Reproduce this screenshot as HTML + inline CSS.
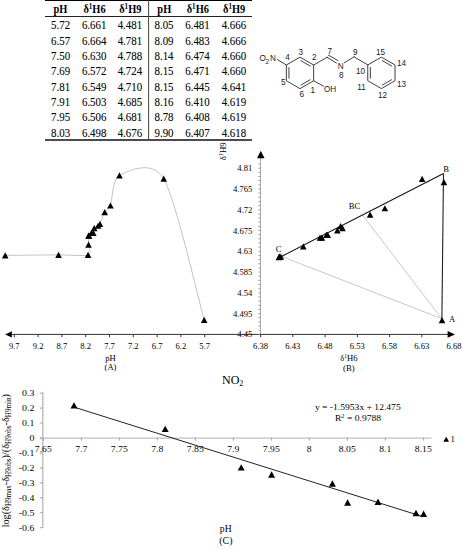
<!DOCTYPE html>
<html><head><meta charset="utf-8"><style>
html,body{margin:0;padding:0;background:#fff;}
body{width:463px;height:550px;overflow:hidden;}
svg{display:block;}
</style></head><body>
<svg width="463" height="550" viewBox="0 0 463 550">
<rect width="463" height="550" fill="#fff"/>
<line x1="45" y1="0.5" x2="252" y2="0.5" stroke="#000" stroke-width="1.2"/>
<line x1="45" y1="16.5" x2="252" y2="16.5" stroke="#222" stroke-width="1"/>
<line x1="45" y1="139.9" x2="252" y2="139.9" stroke="#111" stroke-width="1.5"/>
<line x1="148.6" y1="0" x2="148.6" y2="139.5" stroke="#444" stroke-width="1"/>
<text transform="translate(60.5 12.8) scale(1.000 1.100)" font-size="10.4" text-anchor="middle" font-weight="bold" font-family='"Liberation Serif", serif' fill="#000" >pH</text>
<text transform="translate(94.5 12.8) scale(1.000 1.100)" font-size="10.4" text-anchor="middle" font-weight="bold" font-family='"Liberation Serif", serif' fill="#000" >&#948;<tspan font-size="7.07" dy="-3.6">1</tspan><tspan dy="3.6">H6</tspan></text>
<text transform="translate(130.3 12.8) scale(1.000 1.100)" font-size="10.4" text-anchor="middle" font-weight="bold" font-family='"Liberation Serif", serif' fill="#000" >&#948;<tspan font-size="7.07" dy="-3.6">1</tspan><tspan dy="3.6">H9</tspan></text>
<text transform="translate(164.3 12.8) scale(1.000 1.100)" font-size="10.4" text-anchor="middle" font-weight="bold" font-family='"Liberation Serif", serif' fill="#000" >pH</text>
<text transform="translate(197.8 12.8) scale(1.000 1.100)" font-size="10.4" text-anchor="middle" font-weight="bold" font-family='"Liberation Serif", serif' fill="#000" >&#948;<tspan font-size="7.07" dy="-3.6">1</tspan><tspan dy="3.6">H6</tspan></text>
<text transform="translate(234.2 12.8) scale(1.000 1.100)" font-size="10.4" text-anchor="middle" font-weight="bold" font-family='"Liberation Serif", serif' fill="#000" >&#948;<tspan font-size="7.07" dy="-3.6">1</tspan><tspan dy="3.6">H9</tspan></text>
<text transform="translate(60.6 29.3) scale(1.000 1.160)" font-size="10.9" text-anchor="middle" font-weight="normal" font-family='"Liberation Serif", serif' fill="#000" stroke="#000" stroke-width="0.08">5.72</text>
<text transform="translate(94.2 29.3) scale(1.000 1.160)" font-size="10.9" text-anchor="middle" font-weight="normal" font-family='"Liberation Serif", serif' fill="#000" stroke="#000" stroke-width="0.08">6.661</text>
<text transform="translate(129.9 29.3) scale(1.000 1.160)" font-size="10.9" text-anchor="middle" font-weight="normal" font-family='"Liberation Serif", serif' fill="#000" stroke="#000" stroke-width="0.08">4.481</text>
<text transform="translate(164 29.3) scale(1.000 1.160)" font-size="10.9" text-anchor="middle" font-weight="normal" font-family='"Liberation Serif", serif' fill="#000" stroke="#000" stroke-width="0.08">8.05</text>
<text transform="translate(197.5 29.3) scale(1.000 1.160)" font-size="10.9" text-anchor="middle" font-weight="normal" font-family='"Liberation Serif", serif' fill="#000" stroke="#000" stroke-width="0.08">6.481</text>
<text transform="translate(233.9 29.3) scale(1.000 1.160)" font-size="10.9" text-anchor="middle" font-weight="normal" font-family='"Liberation Serif", serif' fill="#000" stroke="#000" stroke-width="0.08">4.666</text>
<text transform="translate(60.6 44.66) scale(1.000 1.160)" font-size="10.9" text-anchor="middle" font-weight="normal" font-family='"Liberation Serif", serif' fill="#000" stroke="#000" stroke-width="0.08">6.57</text>
<text transform="translate(94.2 44.66) scale(1.000 1.160)" font-size="10.9" text-anchor="middle" font-weight="normal" font-family='"Liberation Serif", serif' fill="#000" stroke="#000" stroke-width="0.08">6.664</text>
<text transform="translate(129.9 44.66) scale(1.000 1.160)" font-size="10.9" text-anchor="middle" font-weight="normal" font-family='"Liberation Serif", serif' fill="#000" stroke="#000" stroke-width="0.08">4.781</text>
<text transform="translate(164 44.66) scale(1.000 1.160)" font-size="10.9" text-anchor="middle" font-weight="normal" font-family='"Liberation Serif", serif' fill="#000" stroke="#000" stroke-width="0.08">8.09</text>
<text transform="translate(197.5 44.66) scale(1.000 1.160)" font-size="10.9" text-anchor="middle" font-weight="normal" font-family='"Liberation Serif", serif' fill="#000" stroke="#000" stroke-width="0.08">6.483</text>
<text transform="translate(233.9 44.66) scale(1.000 1.160)" font-size="10.9" text-anchor="middle" font-weight="normal" font-family='"Liberation Serif", serif' fill="#000" stroke="#000" stroke-width="0.08">4.666</text>
<text transform="translate(60.6 60.02) scale(1.000 1.160)" font-size="10.9" text-anchor="middle" font-weight="normal" font-family='"Liberation Serif", serif' fill="#000" stroke="#000" stroke-width="0.08">7.50</text>
<text transform="translate(94.2 60.02) scale(1.000 1.160)" font-size="10.9" text-anchor="middle" font-weight="normal" font-family='"Liberation Serif", serif' fill="#000" stroke="#000" stroke-width="0.08">6.630</text>
<text transform="translate(129.9 60.02) scale(1.000 1.160)" font-size="10.9" text-anchor="middle" font-weight="normal" font-family='"Liberation Serif", serif' fill="#000" stroke="#000" stroke-width="0.08">4.788</text>
<text transform="translate(164 60.02) scale(1.000 1.160)" font-size="10.9" text-anchor="middle" font-weight="normal" font-family='"Liberation Serif", serif' fill="#000" stroke="#000" stroke-width="0.08">8.14</text>
<text transform="translate(197.5 60.02) scale(1.000 1.160)" font-size="10.9" text-anchor="middle" font-weight="normal" font-family='"Liberation Serif", serif' fill="#000" stroke="#000" stroke-width="0.08">6.474</text>
<text transform="translate(233.9 60.02) scale(1.000 1.160)" font-size="10.9" text-anchor="middle" font-weight="normal" font-family='"Liberation Serif", serif' fill="#000" stroke="#000" stroke-width="0.08">4.660</text>
<text transform="translate(60.6 75.38) scale(1.000 1.160)" font-size="10.9" text-anchor="middle" font-weight="normal" font-family='"Liberation Serif", serif' fill="#000" stroke="#000" stroke-width="0.08">7.69</text>
<text transform="translate(94.2 75.38) scale(1.000 1.160)" font-size="10.9" text-anchor="middle" font-weight="normal" font-family='"Liberation Serif", serif' fill="#000" stroke="#000" stroke-width="0.08">6.572</text>
<text transform="translate(129.9 75.38) scale(1.000 1.160)" font-size="10.9" text-anchor="middle" font-weight="normal" font-family='"Liberation Serif", serif' fill="#000" stroke="#000" stroke-width="0.08">4.724</text>
<text transform="translate(164 75.38) scale(1.000 1.160)" font-size="10.9" text-anchor="middle" font-weight="normal" font-family='"Liberation Serif", serif' fill="#000" stroke="#000" stroke-width="0.08">8.15</text>
<text transform="translate(197.5 75.38) scale(1.000 1.160)" font-size="10.9" text-anchor="middle" font-weight="normal" font-family='"Liberation Serif", serif' fill="#000" stroke="#000" stroke-width="0.08">6.471</text>
<text transform="translate(233.9 75.38) scale(1.000 1.160)" font-size="10.9" text-anchor="middle" font-weight="normal" font-family='"Liberation Serif", serif' fill="#000" stroke="#000" stroke-width="0.08">4.660</text>
<text transform="translate(60.6 90.74) scale(1.000 1.160)" font-size="10.9" text-anchor="middle" font-weight="normal" font-family='"Liberation Serif", serif' fill="#000" stroke="#000" stroke-width="0.08">7.81</text>
<text transform="translate(94.2 90.74) scale(1.000 1.160)" font-size="10.9" text-anchor="middle" font-weight="normal" font-family='"Liberation Serif", serif' fill="#000" stroke="#000" stroke-width="0.08">6.549</text>
<text transform="translate(129.9 90.74) scale(1.000 1.160)" font-size="10.9" text-anchor="middle" font-weight="normal" font-family='"Liberation Serif", serif' fill="#000" stroke="#000" stroke-width="0.08">4.710</text>
<text transform="translate(164 90.74) scale(1.000 1.160)" font-size="10.9" text-anchor="middle" font-weight="normal" font-family='"Liberation Serif", serif' fill="#000" stroke="#000" stroke-width="0.08">8.15</text>
<text transform="translate(197.5 90.74) scale(1.000 1.160)" font-size="10.9" text-anchor="middle" font-weight="normal" font-family='"Liberation Serif", serif' fill="#000" stroke="#000" stroke-width="0.08">6.445</text>
<text transform="translate(233.9 90.74) scale(1.000 1.160)" font-size="10.9" text-anchor="middle" font-weight="normal" font-family='"Liberation Serif", serif' fill="#000" stroke="#000" stroke-width="0.08">4.641</text>
<text transform="translate(60.6 106.1) scale(1.000 1.160)" font-size="10.9" text-anchor="middle" font-weight="normal" font-family='"Liberation Serif", serif' fill="#000" stroke="#000" stroke-width="0.08">7.91</text>
<text transform="translate(94.2 106.1) scale(1.000 1.160)" font-size="10.9" text-anchor="middle" font-weight="normal" font-family='"Liberation Serif", serif' fill="#000" stroke="#000" stroke-width="0.08">6.503</text>
<text transform="translate(129.9 106.1) scale(1.000 1.160)" font-size="10.9" text-anchor="middle" font-weight="normal" font-family='"Liberation Serif", serif' fill="#000" stroke="#000" stroke-width="0.08">4.685</text>
<text transform="translate(164 106.1) scale(1.000 1.160)" font-size="10.9" text-anchor="middle" font-weight="normal" font-family='"Liberation Serif", serif' fill="#000" stroke="#000" stroke-width="0.08">8.16</text>
<text transform="translate(197.5 106.1) scale(1.000 1.160)" font-size="10.9" text-anchor="middle" font-weight="normal" font-family='"Liberation Serif", serif' fill="#000" stroke="#000" stroke-width="0.08">6.410</text>
<text transform="translate(233.9 106.1) scale(1.000 1.160)" font-size="10.9" text-anchor="middle" font-weight="normal" font-family='"Liberation Serif", serif' fill="#000" stroke="#000" stroke-width="0.08">4.619</text>
<text transform="translate(60.6 121.46) scale(1.000 1.160)" font-size="10.9" text-anchor="middle" font-weight="normal" font-family='"Liberation Serif", serif' fill="#000" stroke="#000" stroke-width="0.08">7.95</text>
<text transform="translate(94.2 121.46) scale(1.000 1.160)" font-size="10.9" text-anchor="middle" font-weight="normal" font-family='"Liberation Serif", serif' fill="#000" stroke="#000" stroke-width="0.08">6.506</text>
<text transform="translate(129.9 121.46) scale(1.000 1.160)" font-size="10.9" text-anchor="middle" font-weight="normal" font-family='"Liberation Serif", serif' fill="#000" stroke="#000" stroke-width="0.08">4.681</text>
<text transform="translate(164 121.46) scale(1.000 1.160)" font-size="10.9" text-anchor="middle" font-weight="normal" font-family='"Liberation Serif", serif' fill="#000" stroke="#000" stroke-width="0.08">8.78</text>
<text transform="translate(197.5 121.46) scale(1.000 1.160)" font-size="10.9" text-anchor="middle" font-weight="normal" font-family='"Liberation Serif", serif' fill="#000" stroke="#000" stroke-width="0.08">6.408</text>
<text transform="translate(233.9 121.46) scale(1.000 1.160)" font-size="10.9" text-anchor="middle" font-weight="normal" font-family='"Liberation Serif", serif' fill="#000" stroke="#000" stroke-width="0.08">4.619</text>
<text transform="translate(60.6 136.82) scale(1.000 1.160)" font-size="10.9" text-anchor="middle" font-weight="normal" font-family='"Liberation Serif", serif' fill="#000" stroke="#000" stroke-width="0.08">8.03</text>
<text transform="translate(94.2 136.82) scale(1.000 1.160)" font-size="10.9" text-anchor="middle" font-weight="normal" font-family='"Liberation Serif", serif' fill="#000" stroke="#000" stroke-width="0.08">6.498</text>
<text transform="translate(129.9 136.82) scale(1.000 1.160)" font-size="10.9" text-anchor="middle" font-weight="normal" font-family='"Liberation Serif", serif' fill="#000" stroke="#000" stroke-width="0.08">4.676</text>
<text transform="translate(164 136.82) scale(1.000 1.160)" font-size="10.9" text-anchor="middle" font-weight="normal" font-family='"Liberation Serif", serif' fill="#000" stroke="#000" stroke-width="0.08">9.90</text>
<text transform="translate(197.5 136.82) scale(1.000 1.160)" font-size="10.9" text-anchor="middle" font-weight="normal" font-family='"Liberation Serif", serif' fill="#000" stroke="#000" stroke-width="0.08">6.407</text>
<text transform="translate(233.9 136.82) scale(1.000 1.160)" font-size="10.9" text-anchor="middle" font-weight="normal" font-family='"Liberation Serif", serif' fill="#000" stroke="#000" stroke-width="0.08">4.618</text>
<polygon points="300,57.15 313.64,65.03 313.64,80.78 300,88.65 286.36,80.78 286.36,65.03" stroke="#2a2a2a" stroke-width="0.9" fill="none" stroke-linejoin="round"/>
<line x1="300.88" y1="60.66" x2="310.16" y2="66.02" stroke="#2a2a2a" stroke-width="0.9" fill="none" stroke-linecap="round"/>
<line x1="310.16" y1="79.78" x2="300.88" y2="85.14" stroke="#2a2a2a" stroke-width="0.9" fill="none" stroke-linecap="round"/>
<line x1="288.96" y1="78.26" x2="288.96" y2="67.55" stroke="#2a2a2a" stroke-width="0.9" fill="none" stroke-linecap="round"/>
<polygon points="381.4,57.1 395.04,64.97 395.04,80.72 381.4,88.6 367.76,80.72 367.76,64.97" stroke="#2a2a2a" stroke-width="0.9" fill="none" stroke-linejoin="round"/>
<line x1="382.28" y1="60.61" x2="391.56" y2="65.97" stroke="#2a2a2a" stroke-width="0.9" fill="none" stroke-linecap="round"/>
<line x1="391.56" y1="79.73" x2="382.28" y2="85.09" stroke="#2a2a2a" stroke-width="0.9" fill="none" stroke-linecap="round"/>
<line x1="370.36" y1="78.2" x2="370.36" y2="67.49" stroke="#2a2a2a" stroke-width="0.9" fill="none" stroke-linecap="round"/>
<path d="M286.36 65.03L277.2 59.5" stroke="#2a2a2a" stroke-width="0.9" fill="none" stroke-linecap="round"/>
<path d="M313.64 65.03L327.1 57.3" stroke="#2a2a2a" stroke-width="0.9" fill="none" stroke-linecap="round"/>
<path d="M327.1 57.3L336.4 63" stroke="#2a2a2a" stroke-width="0.9" fill="none" stroke-linecap="round"/>
<path d="M328.4 55.1L338 60.6" stroke="#2a2a2a" stroke-width="0.9" fill="none" stroke-linecap="round"/>
<path d="M344.4 62.7L354.1 56.8" stroke="#2a2a2a" stroke-width="0.9" fill="none" stroke-linecap="round"/>
<path d="M354.1 56.8L367.76 64.97" stroke="#2a2a2a" stroke-width="0.9" fill="none" stroke-linecap="round"/>
<path d="M313.64 80.78L323.5 86.2" stroke="#2a2a2a" stroke-width="0.9" fill="none" stroke-linecap="round"/>
<text x="259.4" y="61.1" font-size="8.2" text-anchor="start" font-weight="normal" font-family='"Liberation Sans", sans-serif' fill="#1a1a1a" >O</text>
<text x="265.6" y="63.6" font-size="6.4" text-anchor="start" font-weight="normal" font-family='"Liberation Sans", sans-serif' fill="#1a1a1a" >2</text>
<text x="269.9" y="61.1" font-size="8.2" text-anchor="start" font-weight="normal" font-family='"Liberation Sans", sans-serif' fill="#1a1a1a" >N</text>
<text x="287.6" y="59.8" font-size="8.2" text-anchor="middle" font-weight="normal" font-family='"Liberation Sans", sans-serif' fill="#1a1a1a" >4</text>
<text x="300.7" y="55" font-size="8.2" text-anchor="middle" font-weight="normal" font-family='"Liberation Sans", sans-serif' fill="#1a1a1a" >3</text>
<text x="314.2" y="60" font-size="8.2" text-anchor="middle" font-weight="normal" font-family='"Liberation Sans", sans-serif' fill="#1a1a1a" >2</text>
<text x="283.4" y="84.7" font-size="8.2" text-anchor="middle" font-weight="normal" font-family='"Liberation Sans", sans-serif' fill="#1a1a1a" >5</text>
<text x="301.8" y="97" font-size="8.2" text-anchor="middle" font-weight="normal" font-family='"Liberation Sans", sans-serif' fill="#1a1a1a" >6</text>
<text x="312.8" y="93" font-size="8.2" text-anchor="middle" font-weight="normal" font-family='"Liberation Sans", sans-serif' fill="#1a1a1a" >1</text>
<text x="324" y="92.1" font-size="8.2" text-anchor="start" font-weight="normal" font-family='"Liberation Sans", sans-serif' fill="#1a1a1a" >OH</text>
<text x="329.8" y="53.6" font-size="8.2" text-anchor="middle" font-weight="normal" font-family='"Liberation Sans", sans-serif' fill="#1a1a1a" >7</text>
<text x="340.6" y="68.8" font-size="8.2" text-anchor="middle" font-weight="normal" font-family='"Liberation Sans", sans-serif' fill="#1a1a1a" >N</text>
<text x="341.2" y="77.6" font-size="8.2" text-anchor="middle" font-weight="normal" font-family='"Liberation Sans", sans-serif' fill="#1a1a1a" >8</text>
<text x="355.4" y="54.8" font-size="8.2" text-anchor="middle" font-weight="normal" font-family='"Liberation Sans", sans-serif' fill="#1a1a1a" >9</text>
<text x="380.6" y="54.6" font-size="8.2" text-anchor="middle" font-weight="normal" font-family='"Liberation Sans", sans-serif' fill="#1a1a1a" >15</text>
<text x="397" y="66" font-size="8.2" text-anchor="start" font-weight="normal" font-family='"Liberation Sans", sans-serif' fill="#1a1a1a" >14</text>
<text x="360.5" y="74" font-size="8.2" text-anchor="middle" font-weight="normal" font-family='"Liberation Sans", sans-serif' fill="#1a1a1a" >10</text>
<text x="361.5" y="89.9" font-size="8.2" text-anchor="middle" font-weight="normal" font-family='"Liberation Sans", sans-serif' fill="#1a1a1a" >11</text>
<text x="382.5" y="97.7" font-size="8.2" text-anchor="middle" font-weight="normal" font-family='"Liberation Sans", sans-serif' fill="#1a1a1a" >12</text>
<text x="397" y="86.7" font-size="8.2" text-anchor="start" font-weight="normal" font-family='"Liberation Sans", sans-serif' fill="#1a1a1a" >13</text>
<path d="M204.2 319.82 C198.53 300.06 175.6 198.92 163.74 178.7 C151.88 158.48 126.93 171.65 119.47 175.4 C112.01 179.16 112.49 200.37 110.43 205.51 C108.36 210.65 106.18 209.53 104.71 212.1 C103.25 214.66 100.89 221.95 99.95 223.86 C99.02 225.77 98.85 225.14 98.05 225.74 C97.25 226.33 94.91 227.1 94.24 228.09 C93.58 229.08 93.69 232.14 93.29 232.79 C92.89 233.45 91.99 232.4 91.39 232.79 C90.79 233.19 89.41 235.22 89.01 235.62 C88.61 236.01 88.6 234.36 88.53 235.62 C88.46 236.87 88.6 241.85 88.53 244.55 C88.46 247.25 92.25 253.45 88.05 254.9 C83.86 256.35 70.14 254.84 58.54 254.9 C46.95 254.97 12.69 255.31 5.23 255.37" stroke="#c4c4c4" stroke-width="1" fill="none"/>
<path d="M204.2 316.72L207.5 322.92L200.9 322.92Z" fill="#000"/>
<path d="M163.74 175.6L167.04 181.8L160.44 181.8Z" fill="#000"/>
<path d="M119.47 172.3L122.77 178.5L116.17 178.5Z" fill="#000"/>
<path d="M110.43 202.41L113.73 208.61L107.13 208.61Z" fill="#000"/>
<path d="M104.71 209L108.01 215.2L101.41 215.2Z" fill="#000"/>
<path d="M99.95 220.76L103.25 226.96L96.65 226.96Z" fill="#000"/>
<path d="M98.05 222.64L101.35 228.84L94.75 228.84Z" fill="#000"/>
<path d="M94.24 224.99L97.54 231.19L90.94 231.19Z" fill="#000"/>
<path d="M93.29 229.69L96.59 235.89L89.99 235.89Z" fill="#000"/>
<path d="M91.39 229.69L94.69 235.89L88.09 235.89Z" fill="#000"/>
<path d="M89.01 232.52L92.31 238.72L85.71 238.72Z" fill="#000"/>
<path d="M88.53 232.52L91.83 238.72L85.23 238.72Z" fill="#000"/>
<path d="M88.53 241.45L91.83 247.65L85.23 247.65Z" fill="#000"/>
<path d="M88.05 251.8L91.35 258L84.75 258Z" fill="#000"/>
<path d="M58.54 251.8L61.84 258L55.24 258Z" fill="#000"/>
<path d="M5.23 252.27L8.53 258.47L1.93 258.47Z" fill="#000"/>
<line x1="10" y1="334.4" x2="260" y2="334.4" stroke="#333" stroke-width="1"/>
<path d="M5.2 334.4 L11.8 331.2 L11.8 337.6 Z" fill="#000"/>
<line x1="14.3" y1="334.4" x2="14.3" y2="337.2" stroke="#333" stroke-width="1"/>
<text x="14.3" y="348.6" font-size="8.6" text-anchor="middle" font-weight="normal" font-family='"Liberation Serif", serif' fill="#000" >9.7</text>
<line x1="38.1" y1="334.4" x2="38.1" y2="337.2" stroke="#333" stroke-width="1"/>
<text x="38.1" y="348.6" font-size="8.6" text-anchor="middle" font-weight="normal" font-family='"Liberation Serif", serif' fill="#000" >9.2</text>
<line x1="61.9" y1="334.4" x2="61.9" y2="337.2" stroke="#333" stroke-width="1"/>
<text x="61.9" y="348.6" font-size="8.6" text-anchor="middle" font-weight="normal" font-family='"Liberation Serif", serif' fill="#000" >8.7</text>
<line x1="85.7" y1="334.4" x2="85.7" y2="337.2" stroke="#333" stroke-width="1"/>
<text x="85.7" y="348.6" font-size="8.6" text-anchor="middle" font-weight="normal" font-family='"Liberation Serif", serif' fill="#000" >8.2</text>
<line x1="109.5" y1="334.4" x2="109.5" y2="337.2" stroke="#333" stroke-width="1"/>
<text x="109.5" y="348.6" font-size="8.6" text-anchor="middle" font-weight="normal" font-family='"Liberation Serif", serif' fill="#000" >7.7</text>
<line x1="133.3" y1="334.4" x2="133.3" y2="337.2" stroke="#333" stroke-width="1"/>
<text x="133.3" y="348.6" font-size="8.6" text-anchor="middle" font-weight="normal" font-family='"Liberation Serif", serif' fill="#000" >7.2</text>
<line x1="157.1" y1="334.4" x2="157.1" y2="337.2" stroke="#333" stroke-width="1"/>
<text x="157.1" y="348.6" font-size="8.6" text-anchor="middle" font-weight="normal" font-family='"Liberation Serif", serif' fill="#000" >6.7</text>
<line x1="180.9" y1="334.4" x2="180.9" y2="337.2" stroke="#333" stroke-width="1"/>
<text x="180.9" y="348.6" font-size="8.6" text-anchor="middle" font-weight="normal" font-family='"Liberation Serif", serif' fill="#000" >6.2</text>
<line x1="204.7" y1="334.4" x2="204.7" y2="337.2" stroke="#333" stroke-width="1"/>
<text x="204.7" y="348.6" font-size="8.6" text-anchor="middle" font-weight="normal" font-family='"Liberation Serif", serif' fill="#000" >5.7</text>
<text x="110.5" y="361.2" font-size="8.6" text-anchor="middle" font-weight="normal" font-family='"Liberation Serif", serif' fill="#000" >pH</text>
<text x="110.5" y="370.2" font-size="8.6" text-anchor="middle" font-weight="normal" font-family='"Liberation Serif", serif' fill="#000" >(A)</text>
<line x1="260.5" y1="158" x2="260.5" y2="334.4" stroke="#a8a8a8" stroke-width="1"/>
<line x1="258.3" y1="334.4" x2="260.5" y2="334.4" stroke="#8a8a8a" stroke-width="0.8"/>
<line x1="258.3" y1="330.24" x2="260.5" y2="330.24" stroke="#8a8a8a" stroke-width="0.8"/>
<line x1="258.3" y1="326.09" x2="260.5" y2="326.09" stroke="#8a8a8a" stroke-width="0.8"/>
<line x1="258.3" y1="321.93" x2="260.5" y2="321.93" stroke="#8a8a8a" stroke-width="0.8"/>
<line x1="258.3" y1="317.78" x2="260.5" y2="317.78" stroke="#8a8a8a" stroke-width="0.8"/>
<line x1="258.3" y1="313.62" x2="260.5" y2="313.62" stroke="#8a8a8a" stroke-width="0.8"/>
<line x1="258.3" y1="309.47" x2="260.5" y2="309.47" stroke="#8a8a8a" stroke-width="0.8"/>
<line x1="258.3" y1="305.31" x2="260.5" y2="305.31" stroke="#8a8a8a" stroke-width="0.8"/>
<line x1="258.3" y1="301.16" x2="260.5" y2="301.16" stroke="#8a8a8a" stroke-width="0.8"/>
<line x1="258.3" y1="297" x2="260.5" y2="297" stroke="#8a8a8a" stroke-width="0.8"/>
<line x1="258.3" y1="292.85" x2="260.5" y2="292.85" stroke="#8a8a8a" stroke-width="0.8"/>
<line x1="258.3" y1="288.69" x2="260.5" y2="288.69" stroke="#8a8a8a" stroke-width="0.8"/>
<line x1="258.3" y1="284.54" x2="260.5" y2="284.54" stroke="#8a8a8a" stroke-width="0.8"/>
<line x1="258.3" y1="280.38" x2="260.5" y2="280.38" stroke="#8a8a8a" stroke-width="0.8"/>
<line x1="258.3" y1="276.23" x2="260.5" y2="276.23" stroke="#8a8a8a" stroke-width="0.8"/>
<line x1="258.3" y1="272.07" x2="260.5" y2="272.07" stroke="#8a8a8a" stroke-width="0.8"/>
<line x1="258.3" y1="267.92" x2="260.5" y2="267.92" stroke="#8a8a8a" stroke-width="0.8"/>
<line x1="258.3" y1="263.76" x2="260.5" y2="263.76" stroke="#8a8a8a" stroke-width="0.8"/>
<line x1="258.3" y1="259.6" x2="260.5" y2="259.6" stroke="#8a8a8a" stroke-width="0.8"/>
<line x1="258.3" y1="255.45" x2="260.5" y2="255.45" stroke="#8a8a8a" stroke-width="0.8"/>
<line x1="258.3" y1="251.29" x2="260.5" y2="251.29" stroke="#8a8a8a" stroke-width="0.8"/>
<line x1="258.3" y1="247.14" x2="260.5" y2="247.14" stroke="#8a8a8a" stroke-width="0.8"/>
<line x1="258.3" y1="242.98" x2="260.5" y2="242.98" stroke="#8a8a8a" stroke-width="0.8"/>
<line x1="258.3" y1="238.83" x2="260.5" y2="238.83" stroke="#8a8a8a" stroke-width="0.8"/>
<line x1="258.3" y1="234.67" x2="260.5" y2="234.67" stroke="#8a8a8a" stroke-width="0.8"/>
<line x1="258.3" y1="230.52" x2="260.5" y2="230.52" stroke="#8a8a8a" stroke-width="0.8"/>
<line x1="258.3" y1="226.36" x2="260.5" y2="226.36" stroke="#8a8a8a" stroke-width="0.8"/>
<line x1="258.3" y1="222.21" x2="260.5" y2="222.21" stroke="#8a8a8a" stroke-width="0.8"/>
<line x1="258.3" y1="218.05" x2="260.5" y2="218.05" stroke="#8a8a8a" stroke-width="0.8"/>
<line x1="258.3" y1="213.9" x2="260.5" y2="213.9" stroke="#8a8a8a" stroke-width="0.8"/>
<line x1="258.3" y1="209.74" x2="260.5" y2="209.74" stroke="#8a8a8a" stroke-width="0.8"/>
<line x1="258.3" y1="205.59" x2="260.5" y2="205.59" stroke="#8a8a8a" stroke-width="0.8"/>
<line x1="258.3" y1="201.43" x2="260.5" y2="201.43" stroke="#8a8a8a" stroke-width="0.8"/>
<line x1="258.3" y1="197.28" x2="260.5" y2="197.28" stroke="#8a8a8a" stroke-width="0.8"/>
<line x1="258.3" y1="193.12" x2="260.5" y2="193.12" stroke="#8a8a8a" stroke-width="0.8"/>
<line x1="258.3" y1="188.96" x2="260.5" y2="188.96" stroke="#8a8a8a" stroke-width="0.8"/>
<line x1="258.3" y1="184.81" x2="260.5" y2="184.81" stroke="#8a8a8a" stroke-width="0.8"/>
<line x1="258.3" y1="180.65" x2="260.5" y2="180.65" stroke="#8a8a8a" stroke-width="0.8"/>
<line x1="258.3" y1="176.5" x2="260.5" y2="176.5" stroke="#8a8a8a" stroke-width="0.8"/>
<line x1="258.3" y1="172.34" x2="260.5" y2="172.34" stroke="#8a8a8a" stroke-width="0.8"/>
<line x1="258.3" y1="168.19" x2="260.5" y2="168.19" stroke="#8a8a8a" stroke-width="0.8"/>
<line x1="258.3" y1="164.03" x2="260.5" y2="164.03" stroke="#8a8a8a" stroke-width="0.8"/>
<path d="M260.8 150.8 L264.6 158.3 L257 158.3 Z" fill="#000"/>
<text x="252.4" y="337.4" font-size="8.6" text-anchor="end" font-weight="normal" font-family='"Liberation Serif", serif' fill="#000" >4.45</text>
<text x="252.4" y="316.62" font-size="8.6" text-anchor="end" font-weight="normal" font-family='"Liberation Serif", serif' fill="#000" >4.495</text>
<text x="252.4" y="295.85" font-size="8.6" text-anchor="end" font-weight="normal" font-family='"Liberation Serif", serif' fill="#000" >4.54</text>
<text x="252.4" y="275.07" font-size="8.6" text-anchor="end" font-weight="normal" font-family='"Liberation Serif", serif' fill="#000" >4.585</text>
<text x="252.4" y="254.29" font-size="8.6" text-anchor="end" font-weight="normal" font-family='"Liberation Serif", serif' fill="#000" >4.63</text>
<text x="252.4" y="233.52" font-size="8.6" text-anchor="end" font-weight="normal" font-family='"Liberation Serif", serif' fill="#000" >4.675</text>
<text x="252.4" y="212.74" font-size="8.6" text-anchor="end" font-weight="normal" font-family='"Liberation Serif", serif' fill="#000" >4.72</text>
<text x="252.4" y="191.96" font-size="8.6" text-anchor="end" font-weight="normal" font-family='"Liberation Serif", serif' fill="#000" >4.765</text>
<text x="252.4" y="171.19" font-size="8.6" text-anchor="end" font-weight="normal" font-family='"Liberation Serif", serif' fill="#000" >4.81</text>
<line x1="260" y1="334.4" x2="449" y2="334.4" stroke="#333" stroke-width="1"/>
<path d="M455 334.4 L447.6 331 L447.6 337.8 Z" fill="#000"/>
<line x1="260.6" y1="334.4" x2="260.6" y2="337.2" stroke="#333" stroke-width="1"/>
<text x="260.6" y="348.6" font-size="8.6" text-anchor="middle" font-weight="normal" font-family='"Liberation Serif", serif' fill="#000" >6.38</text>
<line x1="292.85" y1="334.4" x2="292.85" y2="337.2" stroke="#333" stroke-width="1"/>
<text x="292.85" y="348.6" font-size="8.6" text-anchor="middle" font-weight="normal" font-family='"Liberation Serif", serif' fill="#000" >6.43</text>
<line x1="325.1" y1="334.4" x2="325.1" y2="337.2" stroke="#333" stroke-width="1"/>
<text x="325.1" y="348.6" font-size="8.6" text-anchor="middle" font-weight="normal" font-family='"Liberation Serif", serif' fill="#000" >6.48</text>
<line x1="357.35" y1="334.4" x2="357.35" y2="337.2" stroke="#333" stroke-width="1"/>
<text x="357.35" y="348.6" font-size="8.6" text-anchor="middle" font-weight="normal" font-family='"Liberation Serif", serif' fill="#000" >6.53</text>
<line x1="389.6" y1="334.4" x2="389.6" y2="337.2" stroke="#333" stroke-width="1"/>
<text x="389.6" y="348.6" font-size="8.6" text-anchor="middle" font-weight="normal" font-family='"Liberation Serif", serif' fill="#000" >6.58</text>
<line x1="421.85" y1="334.4" x2="421.85" y2="337.2" stroke="#333" stroke-width="1"/>
<text x="421.85" y="348.6" font-size="8.6" text-anchor="middle" font-weight="normal" font-family='"Liberation Serif", serif' fill="#000" >6.63</text>
<text x="454.1" y="348.6" font-size="8.6" text-anchor="middle" font-weight="normal" font-family='"Liberation Serif", serif' fill="#000" >6.68</text>
<text x="348.8" y="360.9" font-size="8.6" text-anchor="middle" font-weight="normal" font-family='"Liberation Serif", serif' fill="#000" >&#948;<tspan font-size="5.5" dy="-3">1</tspan><tspan dy="3">H6</tspan></text>
<text x="348.8" y="370.6" font-size="8.6" text-anchor="middle" font-weight="normal" font-family='"Liberation Serif", serif' fill="#000" >(B)</text>
<text x="0" y="0" font-size="8.9" text-anchor="start" font-weight="normal" font-family='"Liberation Serif", serif' fill="#000" transform="translate(226.2 160.2) rotate(-90)">&#948;<tspan font-size="5.8" dy="-3.2">1</tspan><tspan dy="3.2">H9</tspan></text>
<line x1="281.5" y1="256.4" x2="441.6" y2="318.6" stroke="#c8c8c8" stroke-width="1"/>
<line x1="362.5" y1="215" x2="441.6" y2="318.6" stroke="#c8c8c8" stroke-width="1"/>
<line x1="281.5" y1="256.4" x2="443.5" y2="173.5" stroke="#111" stroke-width="1.1"/>
<line x1="443.5" y1="173.5" x2="441.9" y2="318.6" stroke="#222" stroke-width="1.1"/>
<path d="M442.03 316.99L445.33 323.19L438.73 323.19Z" fill="#000"/>
<path d="M443.95 178.93L447.25 185.13L440.65 185.13Z" fill="#000"/>
<path d="M422.12 175.71L425.42 181.91L418.82 181.91Z" fill="#000"/>
<path d="M384.87 205.17L388.17 211.37L381.57 211.37Z" fill="#000"/>
<path d="M370.1 211.61L373.4 217.81L366.8 217.81Z" fill="#000"/>
<path d="M340.56 223.11L343.86 229.31L337.26 229.31Z" fill="#000"/>
<path d="M342.49 224.95L345.79 231.15L339.19 231.15Z" fill="#000"/>
<path d="M337.35 227.25L340.65 233.45L334.05 233.45Z" fill="#000"/>
<path d="M326.43 231.86L329.73 238.06L323.13 238.06Z" fill="#000"/>
<path d="M327.72 231.86L331.02 238.06L324.42 238.06Z" fill="#000"/>
<path d="M321.94 234.62L325.24 240.82L318.64 240.82Z" fill="#000"/>
<path d="M320.01 234.62L323.31 240.82L316.71 240.82Z" fill="#000"/>
<path d="M303.31 243.36L306.61 249.56L300.01 249.56Z" fill="#000"/>
<path d="M280.84 253.49L284.14 259.69L277.54 259.69Z" fill="#000"/>
<path d="M279.55 253.49L282.85 259.69L276.25 259.69Z" fill="#000"/>
<path d="M278.91 253.95L282.21 260.15L275.61 260.15Z" fill="#000"/>
<text x="446.2" y="171.5" font-size="8.6" text-anchor="middle" font-weight="normal" font-family='"Liberation Serif", serif' fill="#000" >B</text>
<text x="278.6" y="251.8" font-size="8.6" text-anchor="middle" font-weight="normal" font-family='"Liberation Serif", serif' fill="#000" >C</text>
<text x="452.1" y="322" font-size="8.6" text-anchor="middle" font-weight="normal" font-family='"Liberation Serif", serif' fill="#000" >A</text>
<text x="354.6" y="209" font-size="8.6" text-anchor="middle" font-weight="normal" font-family='"Liberation Serif", serif' fill="#000" >BC</text>
<text x="222" y="383.8" font-size="12" text-anchor="start" font-weight="normal" font-family='"Liberation Serif", serif' fill="#000" >NO<tspan font-size="8" dy="2.5">2</tspan></text>
<line x1="42.8" y1="392.6" x2="42.8" y2="528" stroke="#b0b0b0" stroke-width="1.2"/>
<line x1="40" y1="438.1" x2="431.5" y2="438.1" stroke="#c0c0c0" stroke-width="1.4"/>
<line x1="39.8" y1="393.15" x2="42.8" y2="393.15" stroke="#a0a0a0" stroke-width="1"/>
<text transform="translate(34.3 396.05) scale(1.160 1.000)" font-size="8.5" text-anchor="end" font-weight="normal" font-family='"Liberation Serif", serif' fill="#000" >0.3</text>
<line x1="39.8" y1="408.1" x2="42.8" y2="408.1" stroke="#a0a0a0" stroke-width="1"/>
<text transform="translate(34.3 411) scale(1.160 1.000)" font-size="8.5" text-anchor="end" font-weight="normal" font-family='"Liberation Serif", serif' fill="#000" >0.2</text>
<line x1="39.8" y1="423.05" x2="42.8" y2="423.05" stroke="#a0a0a0" stroke-width="1"/>
<text transform="translate(34.3 425.95) scale(1.160 1.000)" font-size="8.5" text-anchor="end" font-weight="normal" font-family='"Liberation Serif", serif' fill="#000" >0.1</text>
<line x1="39.8" y1="438" x2="42.8" y2="438" stroke="#a0a0a0" stroke-width="1"/>
<text transform="translate(34.3 440.9) scale(1.160 1.000)" font-size="8.5" text-anchor="end" font-weight="normal" font-family='"Liberation Serif", serif' fill="#000" >0</text>
<line x1="39.8" y1="452.95" x2="42.8" y2="452.95" stroke="#a0a0a0" stroke-width="1"/>
<text transform="translate(34.3 455.85) scale(1.160 1.000)" font-size="8.5" text-anchor="end" font-weight="normal" font-family='"Liberation Serif", serif' fill="#000" >-0.1</text>
<line x1="39.8" y1="467.9" x2="42.8" y2="467.9" stroke="#a0a0a0" stroke-width="1"/>
<text transform="translate(34.3 470.8) scale(1.160 1.000)" font-size="8.5" text-anchor="end" font-weight="normal" font-family='"Liberation Serif", serif' fill="#000" >-0.2</text>
<line x1="39.8" y1="482.85" x2="42.8" y2="482.85" stroke="#a0a0a0" stroke-width="1"/>
<text transform="translate(34.3 485.75) scale(1.160 1.000)" font-size="8.5" text-anchor="end" font-weight="normal" font-family='"Liberation Serif", serif' fill="#000" >-0.3</text>
<line x1="39.8" y1="497.8" x2="42.8" y2="497.8" stroke="#a0a0a0" stroke-width="1"/>
<text transform="translate(34.3 500.7) scale(1.160 1.000)" font-size="8.5" text-anchor="end" font-weight="normal" font-family='"Liberation Serif", serif' fill="#000" >-0.4</text>
<line x1="39.8" y1="512.75" x2="42.8" y2="512.75" stroke="#a0a0a0" stroke-width="1"/>
<text transform="translate(34.3 515.65) scale(1.160 1.000)" font-size="8.5" text-anchor="end" font-weight="normal" font-family='"Liberation Serif", serif' fill="#000" >-0.5</text>
<line x1="39.8" y1="527.7" x2="42.8" y2="527.7" stroke="#a0a0a0" stroke-width="1"/>
<text transform="translate(34.3 530.6) scale(1.160 1.000)" font-size="8.5" text-anchor="end" font-weight="normal" font-family='"Liberation Serif", serif' fill="#000" >-0.6</text>
<line x1="43.3" y1="437.8" x2="43.3" y2="440.6" stroke="#a0a0a0" stroke-width="1"/>
<text transform="translate(43.3 451.9) scale(1.140 1.000)" font-size="8.5" text-anchor="middle" font-weight="normal" font-family='"Liberation Serif", serif' fill="#000" >7.65</text>
<line x1="81.3" y1="437.8" x2="81.3" y2="440.6" stroke="#a0a0a0" stroke-width="1"/>
<text transform="translate(81.3 451.9) scale(1.140 1.000)" font-size="8.5" text-anchor="middle" font-weight="normal" font-family='"Liberation Serif", serif' fill="#000" >7.7</text>
<line x1="119.3" y1="437.8" x2="119.3" y2="440.6" stroke="#a0a0a0" stroke-width="1"/>
<text transform="translate(119.3 451.9) scale(1.140 1.000)" font-size="8.5" text-anchor="middle" font-weight="normal" font-family='"Liberation Serif", serif' fill="#000" >7.75</text>
<line x1="157.3" y1="437.8" x2="157.3" y2="440.6" stroke="#a0a0a0" stroke-width="1"/>
<text transform="translate(157.3 451.9) scale(1.140 1.000)" font-size="8.5" text-anchor="middle" font-weight="normal" font-family='"Liberation Serif", serif' fill="#000" >7.8</text>
<line x1="195.3" y1="437.8" x2="195.3" y2="440.6" stroke="#a0a0a0" stroke-width="1"/>
<text transform="translate(195.3 451.9) scale(1.140 1.000)" font-size="8.5" text-anchor="middle" font-weight="normal" font-family='"Liberation Serif", serif' fill="#000" >7.85</text>
<line x1="233.3" y1="437.8" x2="233.3" y2="440.6" stroke="#a0a0a0" stroke-width="1"/>
<text transform="translate(233.3 451.9) scale(1.140 1.000)" font-size="8.5" text-anchor="middle" font-weight="normal" font-family='"Liberation Serif", serif' fill="#000" >7.9</text>
<line x1="271.3" y1="437.8" x2="271.3" y2="440.6" stroke="#a0a0a0" stroke-width="1"/>
<text transform="translate(271.3 451.9) scale(1.140 1.000)" font-size="8.5" text-anchor="middle" font-weight="normal" font-family='"Liberation Serif", serif' fill="#000" >7.95</text>
<line x1="309.3" y1="437.8" x2="309.3" y2="440.6" stroke="#a0a0a0" stroke-width="1"/>
<text transform="translate(309.3 451.9) scale(1.140 1.000)" font-size="8.5" text-anchor="middle" font-weight="normal" font-family='"Liberation Serif", serif' fill="#000" >8</text>
<line x1="347.3" y1="437.8" x2="347.3" y2="440.6" stroke="#a0a0a0" stroke-width="1"/>
<text transform="translate(347.3 451.9) scale(1.140 1.000)" font-size="8.5" text-anchor="middle" font-weight="normal" font-family='"Liberation Serif", serif' fill="#000" >8.05</text>
<line x1="385.3" y1="437.8" x2="385.3" y2="440.6" stroke="#a0a0a0" stroke-width="1"/>
<text transform="translate(385.3 451.9) scale(1.140 1.000)" font-size="8.5" text-anchor="middle" font-weight="normal" font-family='"Liberation Serif", serif' fill="#000" >8.1</text>
<line x1="423.3" y1="437.8" x2="423.3" y2="440.6" stroke="#a0a0a0" stroke-width="1"/>
<text transform="translate(423.3 451.9) scale(1.140 1.000)" font-size="8.5" text-anchor="middle" font-weight="normal" font-family='"Liberation Serif", serif' fill="#000" >8.15</text>
<line x1="73.7" y1="407.03" x2="423.3" y2="516.74" stroke="#222" stroke-width="1"/>
<path d="M74 402.16L77.5 408.56L70.5 408.56Z" fill="#000"/>
<path d="M165.2 425.63L168.7 432.03L161.7 432.03Z" fill="#000"/>
<path d="M241.2 464.2L244.7 470.6L237.7 470.6Z" fill="#000"/>
<path d="M271.6 471.23L275.1 477.63L268.1 477.63Z" fill="#000"/>
<path d="M332.4 480.35L335.9 486.75L328.9 486.75Z" fill="#000"/>
<path d="M347.6 499.33L351.1 505.73L344.1 505.73Z" fill="#000"/>
<path d="M378 498.58L381.5 504.98L374.5 504.98Z" fill="#000"/>
<path d="M416 509.8L419.5 516.2L412.5 516.2Z" fill="#000"/>
<path d="M423.6 510.55L427.1 516.95L420.1 516.95Z" fill="#000"/>
<text transform="translate(357.8 410.1) scale(1.170 1.000)" font-size="8.2" text-anchor="middle" font-weight="normal" font-family='"Liberation Serif", serif' fill="#000" >y = -1.5953x + 12.475</text>
<text transform="translate(358 420.7) scale(1.170 1.000)" font-size="8.2" text-anchor="middle" font-weight="normal" font-family='"Liberation Serif", serif' fill="#000" >R<tspan font-size="5.5" dy="-3">2</tspan><tspan dy="3"> = 0.9788</tspan></text>
<path d="M446.2 436.8L449.05 441.8L443.35 441.8Z" fill="#000"/>
<text x="450.6" y="442" font-size="8.8" text-anchor="start" font-weight="normal" font-family='"Liberation Serif", serif' fill="#000" >1</text>
<text x="225.7" y="532.3" font-size="9.6" text-anchor="middle" font-weight="normal" font-family='"Liberation Serif", serif' fill="#000" >pH</text>
<text x="225.9" y="544.3" font-size="9.8" text-anchor="middle" font-weight="normal" font-family='"Liberation Serif", serif' fill="#000" >(C)</text>
<text transform="translate(8.6 527.3) rotate(-90) scale(1 1)" font-size="10.2" font-family='"Liberation Serif", serif' fill="#000">log(&#948;</text>
<text transform="translate(11.2 506.06) rotate(-90) scale(1 1.3)" font-size="7.1" font-family='"Liberation Serif", serif' fill="#000">H9max</text>
<text transform="translate(8.6 485.16) rotate(-90) scale(1 1)" font-size="10.2" font-family='"Liberation Serif", serif' fill="#000">-&#948;</text>
<text transform="translate(11.2 476.96) rotate(-90) scale(1 1.3)" font-size="7.1" font-family='"Liberation Serif", serif' fill="#000">H9obs</text>
<text transform="translate(8.6 458.42) rotate(-90) scale(1 1)" font-size="10.2" font-family='"Liberation Serif", serif' fill="#000">)/(&#948;</text>
<text transform="translate(11.2 443.99) rotate(-90) scale(1 1.3)" font-size="7.1" font-family='"Liberation Serif", serif' fill="#000">H9obs</text>
<text transform="translate(8.6 425.44) rotate(-90) scale(1 1)" font-size="10.2" font-family='"Liberation Serif", serif' fill="#000">-&#948;</text>
<text transform="translate(11.2 417.24) rotate(-90) scale(1 1.3)" font-size="7.1" font-family='"Liberation Serif", serif' fill="#000">H9min</text>
<text transform="translate(8.6 397.52) rotate(-90) scale(1 1)" font-size="10.2" font-family='"Liberation Serif", serif' fill="#000">)</text>
</svg>
</body></html>
